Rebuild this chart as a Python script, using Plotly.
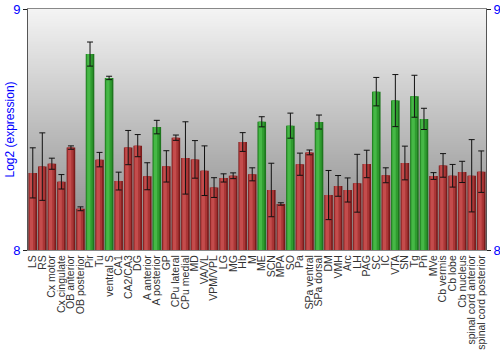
import base64, struct, zlib
import plotly.graph_objects as go

categories = ["LS", "RS", "Cx motor", "Cx cingulate", "OB anterior", "OB posterior", "Pir", "Tu",
              "ventral S", "CA1", "CA2/CA3", "DG", "A anterior", "A posterior", "GP", "CPu lateral",
              "CPu medial", "MD", "VA/VL", "VPM/VPL", "LG", "MG", "Hb", "M", "ME", "SCN", "MPA", "SO",
              "Pa", "SPa ventral", "SPa dorsal", "DM", "VMH", "Arc", "LH", "PAG", "SC", "IC", "VTA",
              "SN", "Tg", "Pn", "MVe", "Cb vermis", "Cb lobe", "Cb nucleus",
              "spinal cord anterior", "spinal cord posterior"]

values = [8.320, 8.346, 8.358, 8.283, 8.425, 8.171, 8.813, 8.375,
          8.714, 8.286, 8.425, 8.433, 8.306, 8.510, 8.347, 8.466,
          8.382, 8.376, 8.329, 8.259, 8.299, 8.308, 8.448, 8.314, 8.532, 8.249, 8.191, 8.516,
          8.356, 8.405, 8.531, 8.228, 8.266, 8.249, 8.277, 8.357, 8.657, 8.310, 8.620,
          8.361, 8.638, 8.544, 8.307, 8.351, 8.308, 8.324,
          8.308, 8.325]

errors = [0.104, 0.140, 0.023, 0.030, 0.007, 0.008, 0.050, 0.030,
          0.007, 0.037, 0.071, 0.046, 0.056, 0.028, 0.065, 0.011,
          0.150, 0.078, 0.103, 0.041, 0.017, 0.012, 0.039, 0.027, 0.021, 0.111, 0.005, 0.052,
          0.046, 0.010, 0.029, 0.102, 0.043, 0.050, 0.120, 0.057, 0.059, 0.031, 0.108,
          0.070, 0.087, 0.044, 0.014, 0.049, 0.047, 0.044,
          0.150, 0.086]

highlighted = {"Pir", "ventral S", "A posterior", "ME", "SO", "SPa dorsal", "SC", "VTA", "Tg", "Pn"}

RED = ["#7a1c1c", "#aa3636", "#c44c4c"]
GREEN = ["#1e761e", "#2f9c2f", "#46b846"]


def colors(level):
    return [GREEN[level] if c in highlighted else RED[level] for c in categories]


def gradient_png(h, top, bot):
    rows = b"".join(
        b"\x00" + bytes(int(round(top[k] + (bot[k] - top[k]) * i / (h - 1))) for k in range(3))
        for i in range(h))

    def chunk(t, d):
        return struct.pack(">I", len(d)) + t + d + struct.pack(">I", zlib.crc32(t + d) & 0xffffffff)

    ihdr = struct.pack(">IIBBBBB", 1, h, 8, 2, 0, 0, 0)
    png = b"\x89PNG\r\n\x1a\n" + chunk(b"IHDR", ihdr) + chunk(b"IDAT", zlib.compress(rows)) + chunk(b"IEND", b"")
    return "data:image/png;base64," + base64.b64encode(png).decode()


fig = go.Figure()
fig.add_trace(go.Bar(x=categories, y=values, width=0.9, marker=dict(color=colors(0), line=dict(width=0)),
                     hoverinfo="skip", showlegend=False))
fig.add_trace(go.Bar(x=categories, y=values, width=0.66, offset=-0.38,
                     marker=dict(color=colors(1), line=dict(width=0)), hoverinfo="skip", showlegend=False))
fig.add_trace(go.Bar(x=categories, y=values, width=0.34, offset=-0.3,
                     marker=dict(color=colors(2), line=dict(width=0)), showlegend=False))
fig.add_trace(go.Scatter(x=categories, y=values, mode="markers", marker=dict(size=1, opacity=0),
                         error_y=dict(type="data", array=errors, visible=True, color="#111111",
                                      thickness=1, width=3),
                         hoverinfo="skip", showlegend=False))

fig.update_layout(
    width=500, height=350,
    margin=dict(l=28, r=14, t=9, b=100),
    barmode="overlay",
    paper_bgcolor="white",
    plot_bgcolor="rgba(0,0,0,0)",
    font=dict(family="Liberation Sans, Arial, sans-serif"),
    images=[dict(source=gradient_png(256, (244, 244, 244), (132, 132, 132)),
                 xref="paper", yref="paper", x=0, y=1, sizex=1, sizey=1,
                 sizing="stretch", xanchor="left", yanchor="top", layer="below")],
    xaxis=dict(range=[-0.5, len(categories) - 0.5], tickangle=-90, ticks="",
               tickmode="array", tickvals=categories, ticktext=categories,
               tickfont=dict(size=10.5, color="#333333"), showline=True, linecolor="#888888",
               mirror=True, showgrid=False, zeroline=False, automargin=False),
    yaxis=dict(range=[8, 9], tickvals=[8, 9], ticktext=["8", "9"], ticks="outside", ticklen=4,
               tickcolor="#222222", tickfont=dict(size=13, color="#0000ff"), showline=True,
               linecolor="#555555", showgrid=False, zeroline=False, automargin=False),
    yaxis2=dict(range=[8, 9], tickvals=[8, 9], ticktext=["8", "9"], ticks="outside", ticklen=4,
                tickcolor="#222222", tickfont=dict(size=13, color="#0000ff"), showline=True,
                linecolor="#555555", showgrid=False, zeroline=False, overlaying="y", side="right",
                automargin=False),
    annotations=[dict(text="Log2 (expression)", xref="paper", yref="paper", x=-19 / 458, y=0.5,
                      xanchor="center", yanchor="middle", textangle=-90, showarrow=False,
                      font=dict(size=12, color="#0000ff"))],
)
fig.add_trace(go.Scatter(x=[categories[0]], y=[8], yaxis="y2", mode="markers",
                         marker=dict(opacity=0), hoverinfo="skip", showlegend=False))

fig.write_html("out.html")
